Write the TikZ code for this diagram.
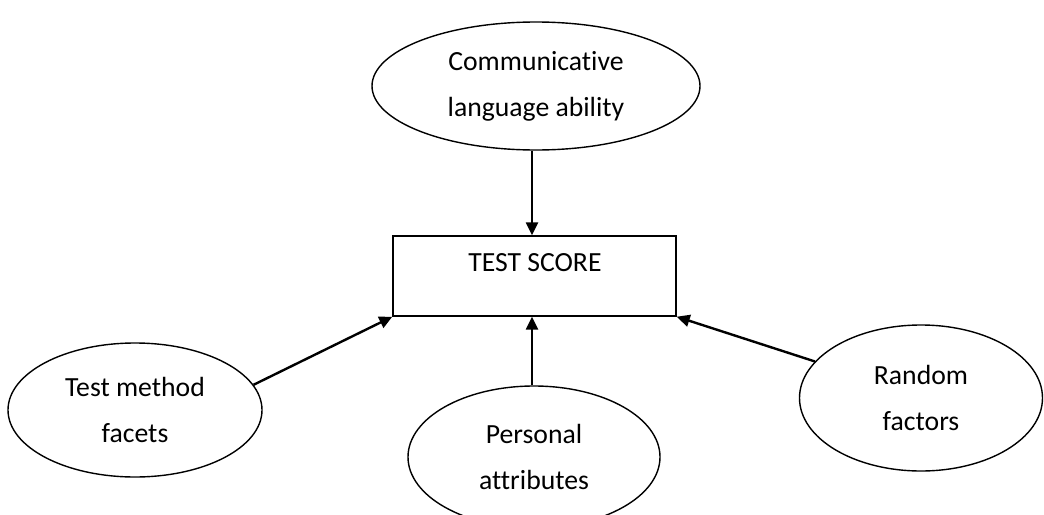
\documentclass[tikz,border=0pt]{standalone}
\usepackage{fontspec}
\setmainfont[Ligatures=NoCommon]{Carlito}
\usetikzlibrary{shapes.geometric,arrows.meta}
\begin{document}
\begin{tikzpicture}[x=1pt,y=-1pt,
  oval/.style={draw,ellipse,line width=1.4pt,inner sep=0pt,align=center,
    font=\fontsize{27.7}{46}\selectfont},
  scorebox/.style={draw,rectangle,line width=1.4pt,inner sep=0pt,
    minimum width=283pt,minimum height=80pt},
  lbl/.style={font=\fontsize{27.7}{33}\selectfont,inner sep=0pt},
  arr/.style={line width=2.4pt,-{Triangle[length=13pt,width=12pt]}}]
\useasboundingbox (0,0) rectangle (1044,514);
\clip (0,0) rectangle (1044,514);
\node[oval,minimum width=328pt,minimum height=128pt] (top) at (536,86) {Communicative\\language ability};
\node[scorebox] (score) at (534.5,276) {};
\node[lbl] (scoretext) at (535,263) {TEST SCORE};
\node[oval,minimum width=254pt,minimum height=134pt] (left) at (135,410) {Test method\\facets};
\node[oval,minimum width=252pt,minimum height=142pt] (bot) at (534,457) {Personal\\attributes};
\node[oval,minimum width=243pt,minimum height=146pt] (right) at (921,398) {Random\\factors};
\draw[arr] (top.south -| 532,0) -- (532,0 |- score.north);
\draw[arr] (bot.north -| 532,0) -- (532,0 |- score.south);
\draw[arr] (left.12) -- (score.south west);
\draw[arr] (right.161) -- (score.south east);
\end{tikzpicture}
\end{document}
